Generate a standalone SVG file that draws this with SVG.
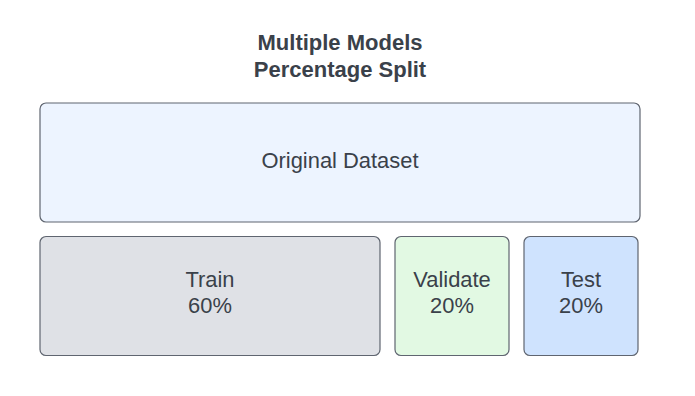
<svg xmlns="http://www.w3.org/2000/svg" width="695" height="396" viewBox="0 0 695 396">
<style>
.box{stroke:#5f6570;stroke-width:1.2}
.t{font-family:"Liberation Sans",Arial,sans-serif;font-size:21.9px;fill:#3a414a;text-anchor:middle}
.title{font-family:"Liberation Sans",Arial,sans-serif;font-size:22px;font-weight:bold;fill:#3a414a;text-anchor:middle}
</style>
<rect width="695" height="396" fill="#ffffff"/>
<g id="title">
<text class="title" x="340" y="50">Multiple Models</text>
<text class="title" x="340" y="77">Percentage Split</text>
</g>
<g id="original">
<rect class="box" x="40" y="103" width="600" height="119" rx="6" fill="#edf4ff"/>
<text class="t" x="340" y="168">Original Dataset</text>
</g>
<g id="train">
<rect class="box" x="40" y="236.5" width="340" height="119" rx="6" fill="#dfe1e6"/>
<text class="t" x="210" y="287">Train</text>
<text class="t" x="210" y="313">60%</text>
</g>
<g id="validate">
<rect class="box" x="395" y="236.5" width="114" height="119" rx="6" fill="#e2f9e3"/>
<text class="t" x="452" y="287">Validate</text>
<text class="t" x="452" y="313">20%</text>
</g>
<g id="test">
<rect class="box" x="524" y="236.5" width="114" height="119" rx="6" fill="#cfe3fe"/>
<text class="t" x="581" y="287">Test</text>
<text class="t" x="581" y="313">20%</text>
</g>
<g id="connectors"/>
</svg>
